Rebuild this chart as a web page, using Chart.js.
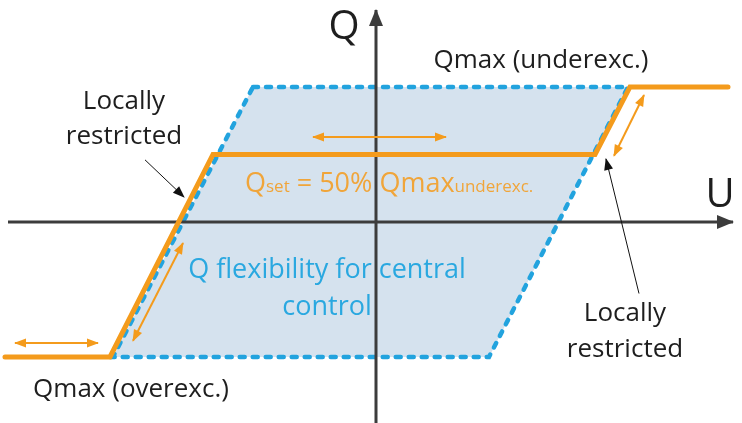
<!DOCTYPE html>
<html>
<head>
<meta charset="utf-8">
<script src="https://cdn.jsdelivr.net/npm/chart.js@4.4.1/dist/chart.umd.min.js"></script>
<style>
  body { margin: 0; background: #fff; }
  #wrap { width: 742px; height: 423px; }
</style>
</head>
<body>
<div id="wrap"><canvas id="qu" width="742" height="423"></canvas></div>
<script>
// Q(U) characteristic, U on x, Q on y (Q in units of Qmax)
const fieldU = [-1.23, 2.52, 1.13, -2.63, -1.23];   // flexibility area corners
const fieldQ = [1, 1, -1, -1, 1];
const curveU = [-3.71, -2.66, -1.63, 2.19, 2.54, 3.52]; // Q(U) curve
const curveQ = [-1, -1, 0.5, 0.5, 1, 1];

const uAxisU = [-3.68, 3.57];
const uAxisQ = [0, 0];
const qAxisU = [0, 0];
const qAxisQ = [-1.49, 1.57];

// double-headed orange arrows: [u1, q1, u2, q2]
const shiftArrows = [
    [-0.63, 0.63, 0.70, 0.63],
    [2.38, 0.49, 2.68, 0.94],
    [-1.93, -0.156, -2.43, -0.88],
    [-3.61, -0.896, -2.78, -0.896]
];
// thin black pointers: tail -> head
const pointerArrows = [
    [-2.31, 0.46, -1.92, 0.185],
    [2.63, -0.53, 2.30, 0.467]
];

const labelsBlack = ['Qmax (underexc.)', 'Locally', 'restricted', 'Locally', 'restricted', 'Qmax (overexc.)'];
const flexLines = ['Q flexibility for central', 'control'];

const orange = '#F49B1C';
const blue = '#22A3DE';

function pts(us, qs) {
    return us.map((u, i) => ({ x: u, y: qs[i] }));
}

const datasets = [];

datasets.push({
    data: pts(fieldU, fieldQ),
    showLine: true,
    borderColor: blue,
    borderWidth: 4.5,
    borderDash: [5, 8],
    borderCapStyle: 'round',
    backgroundColor: '#D5E2EE',
    fill: 'shape',
    pointRadius: 0,
    tension: 0,
    order: 10
});
datasets.push({
    data: pts(uAxisU, uAxisQ), showLine: true, borderColor: '#3C3C3C', borderWidth: 3,
    pointRadius: 0, arrow: 'end', headLen: 16, headW: 14, order: 8
});
datasets.push({
    data: pts(qAxisU, qAxisQ), showLine: true, borderColor: '#3C3C3C', borderWidth: 3,
    pointRadius: 0, arrow: 'end', headLen: 16, headW: 14, order: 8
});
datasets.push({
    data: pts(curveU, curveQ), showLine: true, borderColor: orange, borderWidth: 5,
    borderCapStyle: 'round', borderJoinStyle: 'miter', pointRadius: 0, order: 2
});
shiftArrows.forEach(a => {
    datasets.push({
        data: [{ x: a[0], y: a[1] }, { x: a[2], y: a[3] }], showLine: true,
        borderColor: orange, borderWidth: 2, pointRadius: 0,
        arrow: 'both', headLen: 11, headW: 9, order: 1
    });
});
pointerArrows.forEach(a => {
    datasets.push({
        data: [{ x: a[0], y: a[1] }, { x: a[2], y: a[3] }], showLine: true,
        borderColor: '#111', borderWidth: 1, pointRadius: 0,
        arrow: 'end', headLen: 11, headW: 9, order: 1
    });
});

function head(ctx, from, to, len, w, color) {
    const ang = Math.atan2(to.y - from.y, to.x - from.x);
    ctx.save();
    ctx.translate(to.x, to.y);
    ctx.rotate(ang);
    ctx.fillStyle = color;
    ctx.beginPath();
    ctx.moveTo(1, 0);
    ctx.lineTo(-len, w / 2);
    ctx.lineTo(-len, -w / 2);
    ctx.closePath();
    ctx.fill();
    ctx.restore();
}

const arrowPlugin = {
    id: 'arrows',
    afterDatasetsDraw(chart) {
        const ctx = chart.ctx;
        const xs = chart.scales.x, ys = chart.scales.y;
        chart.data.datasets.forEach(ds => {
            if (!ds.arrow) return;
            const p = ds.data.map(d => ({ x: xs.getPixelForValue(d.x), y: ys.getPixelForValue(d.y) }));
            const n = p.length;
            head(ctx, p[n - 2], p[n - 1], ds.headLen, ds.headW, ds.borderColor);
            if (ds.arrow === 'both') head(ctx, p[1], p[0], ds.headLen, ds.headW, ds.borderColor);
        });
    }
};

const textPlugin = {
    id: 'texts',
    afterDatasetsDraw(chart) {
        const ctx = chart.ctx;
        const font = '"Open Sans", sans-serif';
        ctx.save();
        ctx.textAlign = 'center';
        ctx.textBaseline = 'middle';

        ctx.fillStyle = '#1e1e1e';
        ctx.font = '40px ' + font;
        ctx.fillText('Q', 344, 28);
        ctx.fillText('U', 720, 196);

        ctx.font = '26px ' + font;
        const pos = [[541, 61], [124, 102], [124, 137], [625, 314], [625, 350], [131, 390]];
        labelsBlack.forEach((t, i) => ctx.fillText(t, pos[i][0], pos[i][1]));

        ctx.fillStyle = '#2AA8E0';
        ctx.font = '27px ' + font;
        ctx.fillText(flexLines[0], 327, 270);
        ctx.fillText(flexLines[1], 327, 307);

        // Qset = 50% Qmax(underexc.)
        ctx.fillStyle = '#F0A53A';
        ctx.textAlign = 'left';
        ctx.textBaseline = 'alphabetic';
        const parts = [['Q', 27], ['set', 17], [' = 50% Qmax', 27], ['underexc.', 17]];
        let x = 245;
        const base = 192;
        parts.forEach(([t, s]) => {
            ctx.font = s + 'px ' + font;
            ctx.fillText(t, x, base);
            x += ctx.measureText(t).width;
        });
        ctx.restore();
    }
};

new Chart(document.getElementById('qu'), {
    type: 'scatter',
    data: { datasets: datasets },
    options: {
        responsive: false,
        animation: false,
        events: [],
        layout: { padding: 0 },
        plugins: { legend: { display: false }, tooltip: { enabled: false } },
        scales: {
            x: { type: 'linear', display: false, min: -3.76, max: 3.66 },
            y: { type: 'linear', display: false, min: -1.489, max: 1.644 }
        }
    },
    plugins: [arrowPlugin, textPlugin]
});
</script>
</body>
</html>
